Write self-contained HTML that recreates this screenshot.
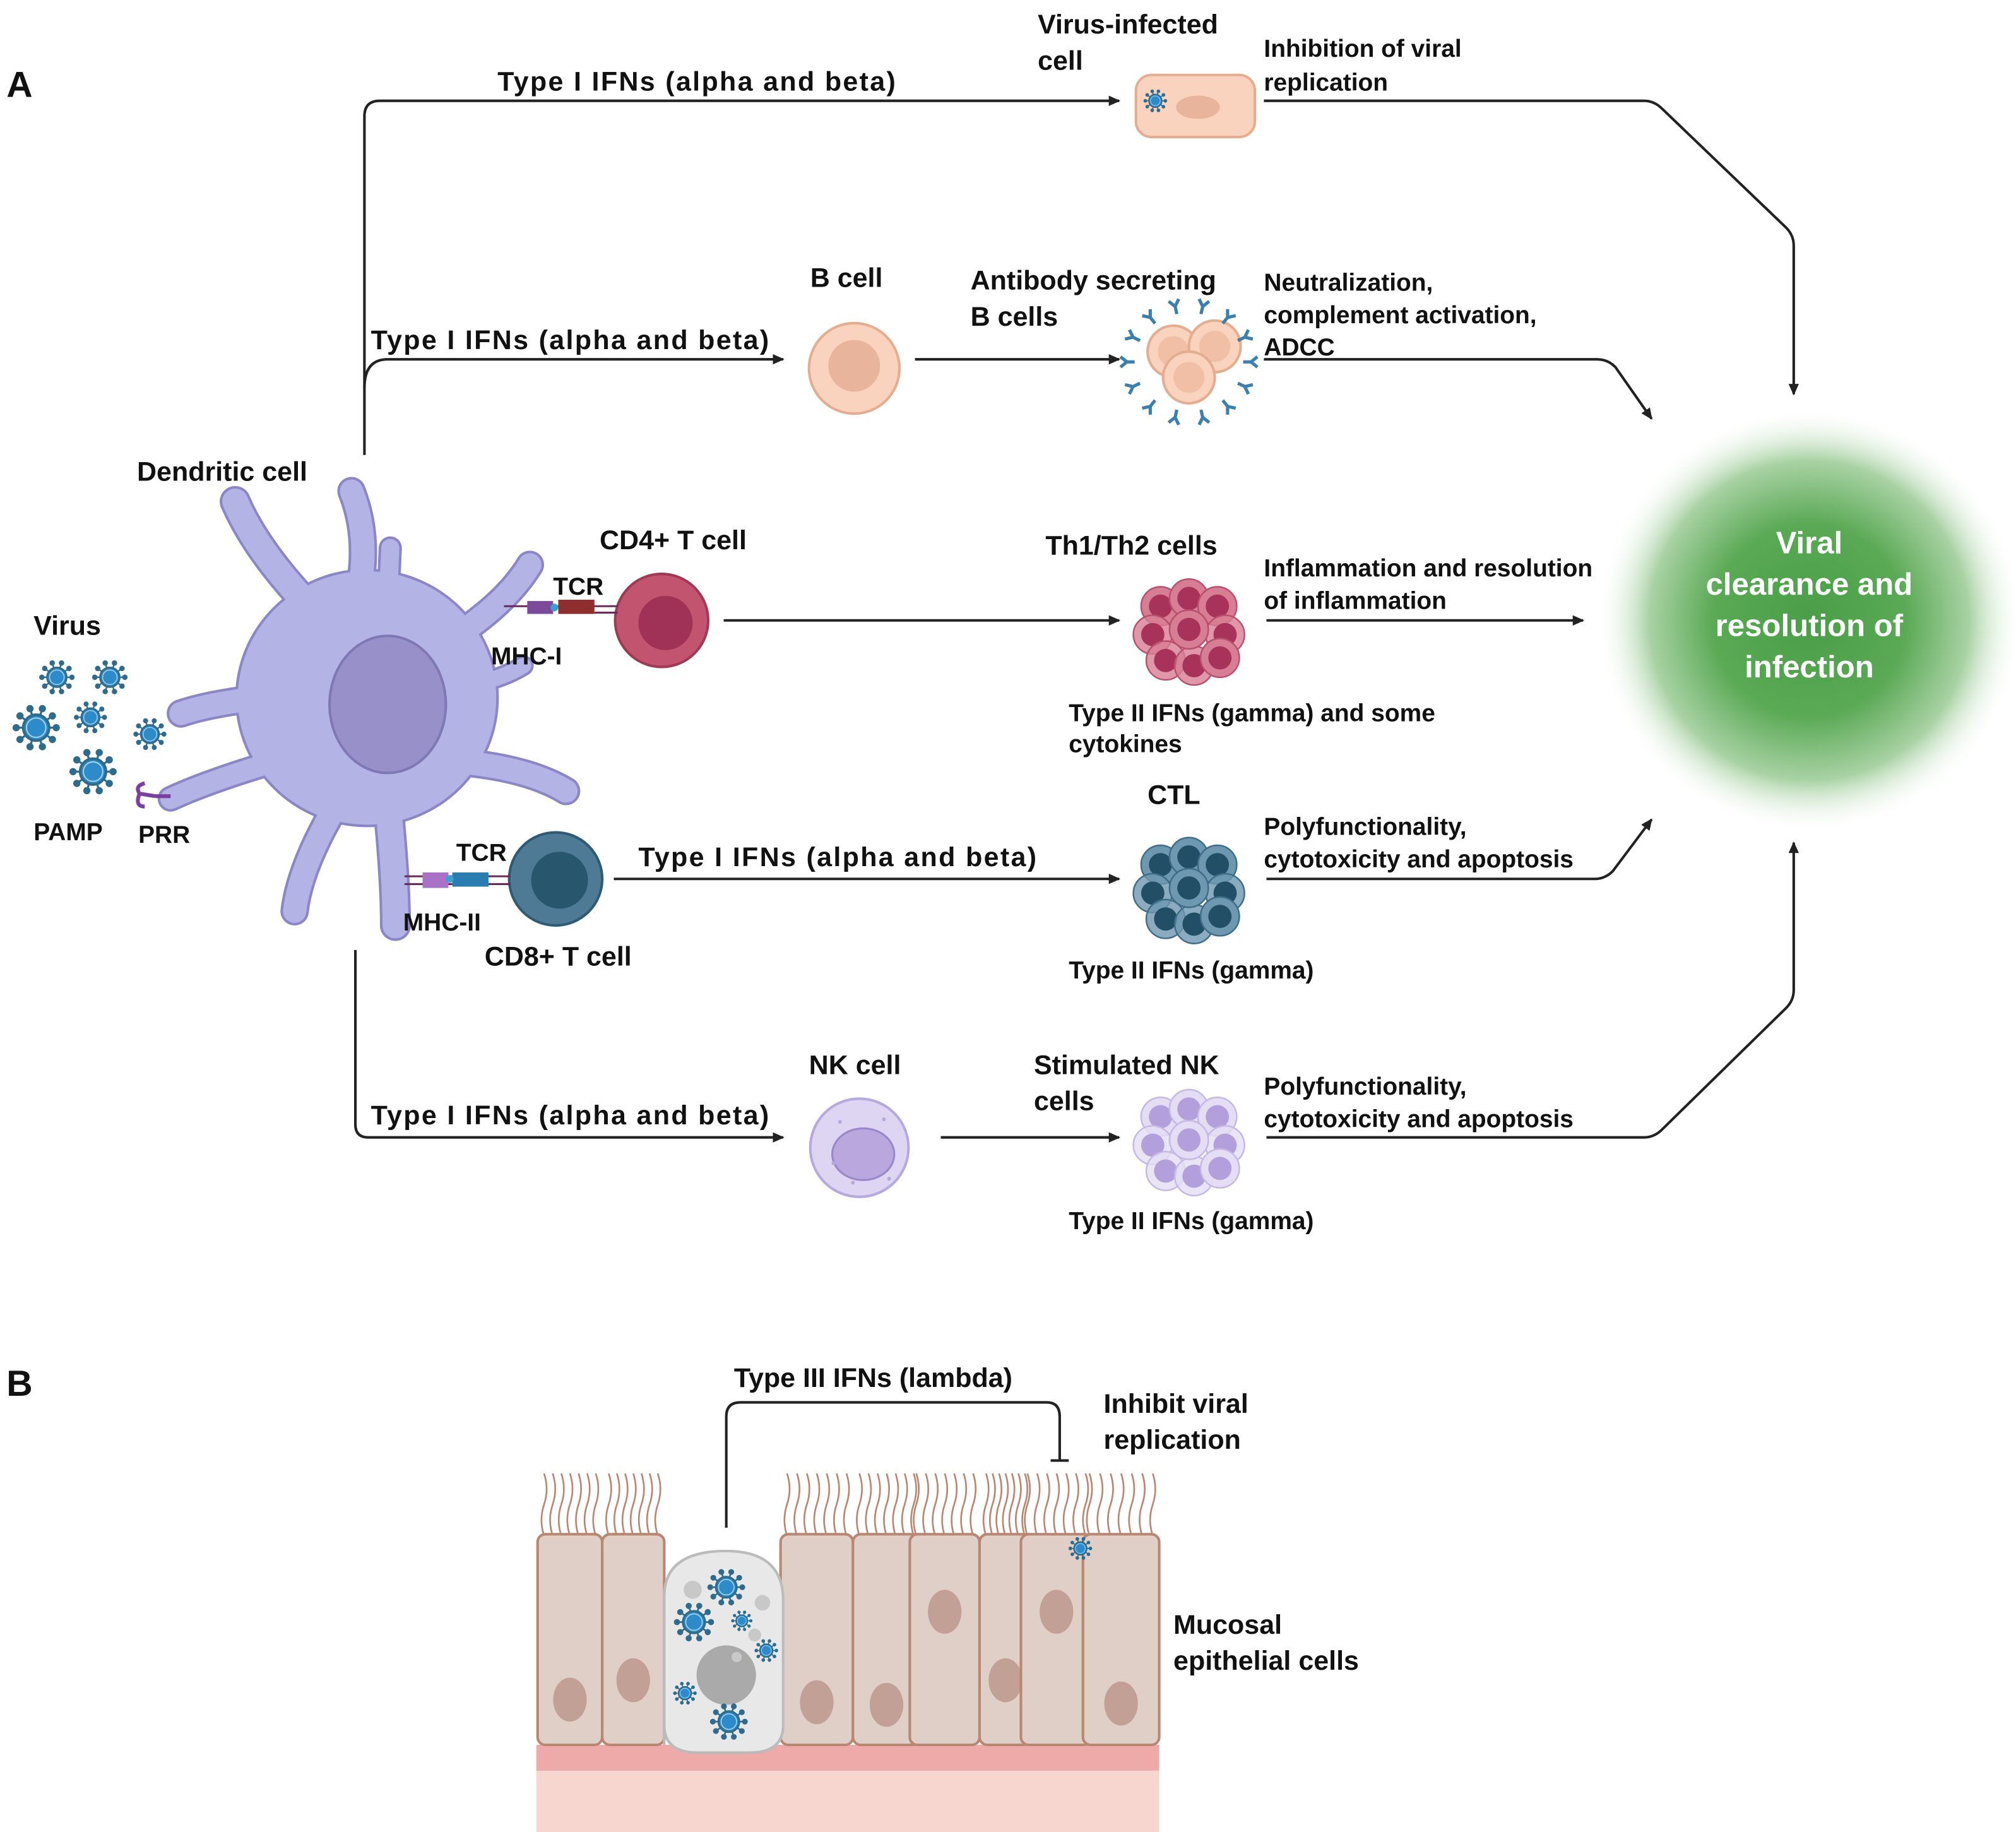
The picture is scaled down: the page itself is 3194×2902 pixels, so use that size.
<!DOCTYPE html>
<html><head><meta charset="utf-8"><style>html,body{margin:0;padding:0;background:#fff}svg{display:block}text{font-family:"Liberation Sans",sans-serif;font-weight:bold;fill:#111}</style></head>
<body>
<svg id="s" width="3194" height="2902" viewBox="0 0 1560 1417.4" preserveAspectRatio="none" xmlns="http://www.w3.org/2000/svg">
<defs>
<marker id="ar" markerWidth="10" markerHeight="10" refX="8" refY="5" orient="auto" markerUnits="userSpaceOnUse"><path d="M0,1 L9,5 L0,9 Z" fill="#222"/></marker>
<radialGradient id="gg" cx="0.5" cy="0.5" r="0.5"><stop offset="0" stop-color="#4a9e47"/><stop offset="0.45" stop-color="#5aa955"/><stop offset="0.75" stop-color="#a9d2a4"/><stop offset="1" stop-color="#fff" stop-opacity="0"/></radialGradient>
<g id="vir"><g stroke="#2f6b8c" stroke-width="1.6" fill="#2f6b8c" id="sp"></g><circle r="10" fill="#2e8bc9" stroke="#2f6b8c" stroke-width="2"/><circle r="7.5" fill="none" stroke="#9fd0ee" stroke-width="1"/></g>
</defs>
<g fill="none" stroke="#222" stroke-width="2">
<path d="M282,352 V90 Q282,78 294,78 H866" marker-end="url(#ar)"/>
<path d="M282,300 Q282,278 300,278 H606" marker-end="url(#ar)"/>
<path d="M708,278 H866" marker-end="url(#ar)"/>
<path d="M978,278 H1236 Q1244,278 1250,284 L1278,324" marker-end="url(#ar)"/>
<path d="M978,78 H1272 Q1280,78 1286,84 L1382,176 Q1388,182 1388,190 V305" marker-end="url(#ar)"/>
<path d="M560,480 H866" marker-end="url(#ar)"/>
<path d="M980,480 H1225" marker-end="url(#ar)"/>
<path d="M475,680 H866" marker-end="url(#ar)"/>
<path d="M980,680 H1234 Q1242,680 1248,674 L1278,634" marker-end="url(#ar)"/>
<path d="M275,735 V870 Q275,880 285,880 H606" marker-end="url(#ar)"/>
<path d="M728,880 H866" marker-end="url(#ar)"/>
<path d="M980,880 H1272 Q1280,880 1286,874 L1382,780 Q1388,774 1388,766 V652" marker-end="url(#ar)"/>
<path d="M562,1182 V1096 Q562,1085 573,1085 H810 Q820,1085 820,1096 V1130"/>
<path d="M813,1130 H827"/>
</g>
<circle cx="1400" cy="480" r="165" fill="url(#gg)"/>
<g text-anchor="middle" style="font-size:24px"><text x="1400" y="428" style="fill:#fff">Viral</text><text x="1400" y="460" style="fill:#fff">clearance and</text><text x="1400" y="492" style="fill:#fff">resolution of</text><text x="1400" y="524" style="fill:#fff">infection</text></g>
<rect x="879" y="58" width="92" height="48" rx="12" fill="#f9d3bd" stroke="#e5ad8f" stroke-width="2"/>
<ellipse cx="927" cy="83" rx="17" ry="9" fill="#e8b49b"/>
<circle cx="661" cy="285" r="35" fill="#f9d3bd" stroke="#e5ad8f" stroke-width="2"/>
<circle cx="661" cy="283" r="20" fill="#e8b49b"/>
<circle cx="665" cy="888" r="38" fill="#ddd5f1" stroke="#b7a9df" stroke-width="2"/>
<ellipse cx="668" cy="893" rx="24" ry="20" fill="#b9a7de" stroke="#9a86cc" stroke-width="1.5"/>
<g fill="#b7a9df"><circle cx="650" cy="868" r="1.5"/><circle cx="684" cy="866" r="1.5"/><circle cx="645" cy="900" r="1.5"/><circle cx="688" cy="912" r="1.5"/><circle cx="660" cy="915" r="1.5"/></g>
<g id="ab"></g>
<g id="dc"></g>
<circle cx="512" cy="480" r="36" fill="#c2546f" stroke="#9f3a55" stroke-width="2"/><circle cx="515" cy="482" r="21" fill="#a03258"/>
<circle cx="430" cy="680" r="36" fill="#4e7a96" stroke="#2f5a74" stroke-width="2"/><circle cx="433" cy="681" r="22" fill="#28566c"/>
<g stroke-width="1.5">
<line x1="390" y1="469" x2="478" y2="469" stroke="#6a2a5a"/><line x1="460" y1="474" x2="478" y2="474" stroke="#6a2a5a"/>
<rect x="408" y="465" width="20" height="10" fill="#7b4a9a"/><rect x="432" y="464" width="28" height="11" fill="#8e2e2e"/><circle cx="429" cy="470" r="3" fill="#3aa0d0"/>
<line x1="313" y1="678" x2="395" y2="678" stroke="#6a2a5a"/><line x1="313" y1="684" x2="395" y2="684" stroke="#6a2a5a"/>
<rect x="327" y="675" width="20" height="12" fill="#a872c8"/><rect x="350" y="675" width="28" height="11" fill="#2a7db0"/><circle cx="348" cy="680" r="3" fill="#3aa0d0"/>
<path d="M108,614 Q104,608 112,606 M108,614 L120,616 M108,614 Q104,624 112,624 M120,616 H132" stroke="#7b3fa0" stroke-width="3" fill="none"/>
</g>
<g id="cl"></g>
<g id="ep"></g>
<g id="vv"></g>
<g style="font-size:28px"><text x="5" y="75">A</text><text x="5" y="1080">B</text></g>
<g style="font-size:21px">
<text x="385" y="70" textLength="308">Type I IFNs (alpha and beta)</text>
<text x="287" y="270" textLength="308">Type I IFNs (alpha and beta)</text>
<text x="494" y="670" textLength="308">Type I IFNs (alpha and beta)</text>
<text x="287" y="870" textLength="308">Type I IFNs (alpha and beta)</text>
<text x="803" y="26">Virus-infected</text><text x="803" y="54">cell</text>
<text x="627" y="222">B cell</text>
<text x="751" y="224">Antibody secreting</text><text x="751" y="252">B cells</text>
<text x="106" y="372">Dendritic cell</text>
<text x="464" y="425">CD4+ T cell</text>
<text x="809" y="429">Th1/Th2 cells</text>
<text x="888" y="622">CTL</text>
<text x="375" y="747">CD8+ T cell</text>
<text x="626" y="831">NK cell</text>
<text x="800" y="831">Stimulated NK</text><text x="800" y="859">cells</text>
<text x="26" y="491">Virus</text>
<text x="568" y="1073">Type III IFNs (lambda)</text>
<text x="854" y="1093">Inhibit viral</text><text x="854" y="1121">replication</text>
<text x="908" y="1264">Mucosal</text><text x="908" y="1292">epithelial cells</text>
</g>
<g style="font-size:19px">
<text x="428" y="460">TCR</text><text x="380" y="514">MHC-I</text>
<text x="353" y="666">TCR</text><text x="312" y="720">MHC-II</text>
<text x="26" y="650">PAMP</text><text x="107" y="652">PRR</text>
<text x="978" y="44">Inhibition of viral</text><text x="978" y="70">replication</text>
<text x="978" y="225">Neutralization,</text><text x="978" y="250">complement activation,</text><text x="978" y="275">ADCC</text>
<text x="978" y="446">Inflammation and resolution</text><text x="978" y="471">of inflammation</text>
<text x="827" y="558">Type II IFNs (gamma) and some</text><text x="827" y="582">cytokines</text>
<text x="978" y="646">Polyfunctionality,</text><text x="978" y="671">cytotoxicity and apoptosis</text>
<text x="827" y="757">Type II IFNs (gamma)</text>
<text x="978" y="847">Polyfunctionality,</text><text x="978" y="872">cytotoxicity and apoptosis</text>
<text x="827" y="951">Type II IFNs (gamma)</text>
</g>
</svg>
<script>
var NS="http://www.w3.org/2000/svg";
function el(p,t,a){var e=document.createElementNS(NS,t);for(var k in a)e.setAttribute(k,a[k]);p.appendChild(e);return e;}
var sp=document.getElementById('sp');
for(var i=0;i<10;i++){var a=i*Math.PI/5,c=Math.cos(a),s=Math.sin(a);el(sp,'line',{x1:10*c,y1:10*s,x2:15*c,y2:15*s});el(sp,'circle',{cx:15.5*c,cy:15.5*s,r:2});}
var vv=document.getElementById('vv');
function vir(x,y,sc){el(vv,'use',{href:'#vir',transform:'translate('+x+','+y+') scale('+sc+')'});}
[[44,524,.75],[85,524,.75],[28,563,1],[70,555,.7],[116,568,.7],[72,597,1],[894,78,.5],[562,1228,.8],[537,1255,.85],[574,1254,.45],[593,1277,.5],[530,1310,.5],[564,1332,.8],[836,1198,.5]].forEach(function(v){vir(v[0],v[1],v[2]);});
var dc=document.getElementById('dc');
var arms=[["M250,480 Q200,430 182,388",20],["M275,470 Q288,420 272,380",18],["M300,470 L302,424",14],["M340,500 Q390,470 410,437",18],["M350,530 Q380,530 405,515",12],["M360,590 Q410,595 438,612",18],["M300,620 Q306,680 306,716",20],["M262,620 Q232,670 228,705",18],["M200,540 Q160,545 140,552",18],["M210,590 Q160,605 132,618",16]];
function dcl(col,ex){el(dc,'ellipse',{cx:284,cy:540,rx:100+ex/2,ry:98+ex/2,fill:col});arms.forEach(function(a){el(dc,'path',{d:a[0],stroke:col,'stroke-width':a[1]+ex,fill:'none','stroke-linecap':'round'});});}
dcl('#8b86c6',4);dcl('#b3b3e6',0);
el(dc,'ellipse',{cx:300,cy:545,rx:45,ry:53,fill:'#9891c9',stroke:'#7f78b4','stroke-width':2});
var cl=document.getElementById('cl');
function cluster(cx,cy,o,n,st){var pts=[[-22,-18],[0,-24],[22,-18],[-28,4],[28,4],[-18,24],[4,28],[24,22],[0,0]];pts.forEach(function(p,i){el(cl,'circle',{cx:cx+p[0],cy:cy+p[1],r:15,fill:o,stroke:st,'stroke-width':1.2,'fill-opacity':i<3||i>6?1:.8});el(cl,'circle',{cx:cx+p[0],cy:cy+p[1],r:9,fill:n});});}
cluster(920,487,'#d77d94','#a8335a','#b8506d');
cluster(920,687,'#6e97b0','#234f66','#3e6d88');
cluster(920,882,'#e4ddf4','#b29fdb','#c5b8e6');
var ab=document.getElementById('ab');
[[908,272],[940,268],[920,292]].forEach(function(p){el(ab,'circle',{cx:p[0],cy:p[1],r:20,fill:'#f9d3bd',stroke:'#e5ad8f','stroke-width':2});el(ab,'circle',{cx:p[0],cy:p[1],r:12,fill:'#f0bfa5'});});
for(var i=0;i<14;i++){var a=i*2*Math.PI/14,x=920+48*Math.cos(a),y=280+44*Math.sin(a);var d=(a*180/Math.PI)+90;el(ab,'path',{d:'M0,6 V0 L-4,-5 M0,0 L4,-5',stroke:'#3a7fae','stroke-width':2.5,fill:'none',transform:'translate('+x+','+y+') rotate('+d+')'});}
var ep=document.getElementById('ep');
el(ep,'rect',{x:415,y:1350,width:482,height:20,fill:'#eeaaa9'});
el(ep,'rect',{x:415,y:1370,width:482,height:48,fill:'#f7d6d0'});
var cells=[[416,466,1290],[466,514,1275],[604,660,1292],[660,712,1294],[704,758,1222],[758,798,1275],[790,845,1222],[838,897,1293]];
var ce='#dfcfc7',cs='#b98672';
cells.forEach(function(c){
 for(var k=0;k<7;k++){var x=c[0]+5+k*(c[1]-c[0]-10)/6;el(ep,'path',{d:'M'+x+',1188 q-4,-12 0,-24 q4,-12 0,-24',stroke:cs,'stroke-width':1.3,fill:'none'});}
});
cells.forEach(function(c){el(ep,'rect',{x:c[0],y:1187,width:c[1]-c[0],height:163,rx:6,fill:ce,stroke:cs,'stroke-width':2});el(ep,'ellipse',{cx:(c[0]+c[1])/2,cy:c[2]+25,rx:13,ry:17,fill:'#c2a096'});});
el(ep,'path',{d:'M514,1350 V1235 Q514,1200 562,1200 Q604,1200 606,1235 V1335 Q606,1356 580,1356 H540 Q514,1356 514,1335 Z',fill:'#e8e8e8',stroke:'#bbb','stroke-width':2});
el(ep,'circle',{cx:562,cy:1296,r:23,fill:'#aaa'});
[[536,1230,7],[590,1240,6],[584,1265,5],[570,1282,4]].forEach(function(g){el(ep,'circle',{cx:g[0],cy:g[1],r:g[2],fill:'#c8c8c8'});});
</script>
</body></html>
